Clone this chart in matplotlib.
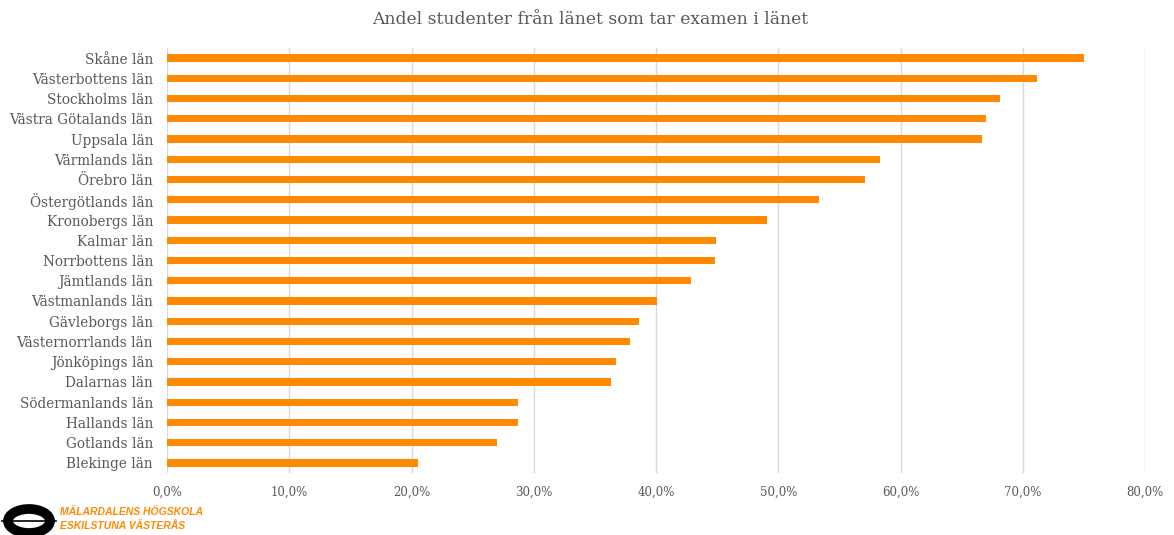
import matplotlib
matplotlib.use("Agg")
import matplotlib.pyplot as plt
from matplotlib.patches import Ellipse
from matplotlib.ticker import FuncFormatter

lan = ["Skåne län", "Västerbottens län", "Stockholms län", "Västra Götalands län",
       "Uppsala län", "Värmlands län", "Örebro län", "Östergötlands län",
       "Kronobergs län", "Kalmar län", "Norrbottens län", "Jämtlands län",
       "Västmanlands län", "Gävleborgs län", "Västernorrlands län",
       "Jönköpings län", "Dalarnas län", "Södermanlands län", "Hallands län",
       "Gotlands län", "Blekinge län"]
andel = [75.0, 71.2, 68.1, 67.0, 66.7, 58.3, 57.1, 53.3, 49.1, 44.9, 44.8,
         42.9, 40.1, 38.6, 37.9, 36.7, 36.3, 28.7, 28.7, 27.0, 20.5]
ticks = [0, 10, 20, 30, 40, 50, 60, 70, 80]

orange = "#FF8A00"
grey = "#595959"
serif = "DejaVu Serif"

fig = plt.figure(figsize=(11.74, 5.35), dpi=100)
ax = fig.add_axes([167 / 1174, 1 - 473 / 535, (1145 - 167) / 1174, (473 - 48) / 535])

pos = list(range(len(lan)))
ax.barh(pos, andel, height=0.36, color=orange, zorder=3)
ax.set_ylim(len(lan) - 0.5, -0.5)
ax.set_xlim(0, 80)
ax.set_xticks(ticks)
ax.xaxis.set_major_formatter(FuncFormatter(lambda v, p: f"{v:.1f}%".replace(".", ",")))
ax.set_yticks(pos)
ax.set_yticklabels(lan, fontfamily=serif, fontsize=9.8, color=grey)
for t in ax.get_xticklabels():
    t.set_fontfamily(serif)
    t.set_fontsize(8.5)
    t.set_color(grey)
ax.tick_params(axis="both", length=0)
ax.tick_params(axis="y", pad=10)
ax.tick_params(axis="x", pad=9)
ax.grid(axis="x", color="#D9D9D9", linewidth=1, zorder=0)
for s in ax.spines.values():
    s.set_visible(False)

fig.text(590 / 1174, 1 - 20 / 535, "Andel studenter från länet som tar examen i länet",
         ha="center", va="center", fontfamily=serif, fontsize=12.3, color=grey)

# logga nere till vänster
fig.patches.append(Ellipse((29 / 1174, 1 - 521 / 535), 42 / 1174, 24 / 535,
                           fill=False, edgecolor="black", linewidth=7,
                           transform=fig.transFigure, figure=fig))
fig.add_artist(plt.Line2D([2 / 1174, 56 / 1174], [1 - 521 / 535] * 2,
                          color="black", linewidth=1.2, transform=fig.transFigure))
for y, txt in [(512, "MÄLARDALENS HÖGSKOLA"), (526, "ESKILSTUNA VÄSTERÅS")]:
    fig.text(60 / 1174, 1 - y / 535, txt, fontsize=7.5, fontweight="bold",
             fontstyle="italic", color=orange, va="center",
             family=["Liberation Sans"])

fig.savefig("out.png", dpi=100)
